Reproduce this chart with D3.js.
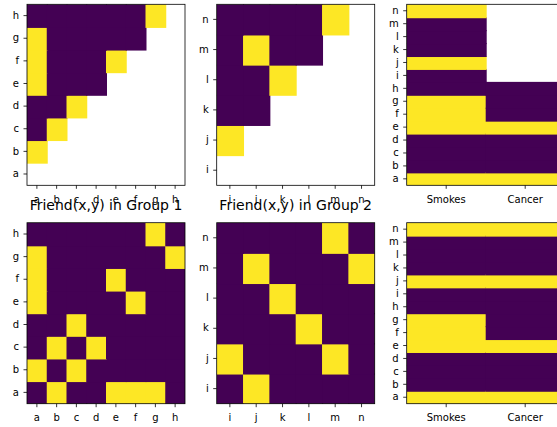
<!DOCTYPE html>
<html>
<head>
<meta charset="utf-8">
<script src="https://cdn.jsdelivr.net/npm/d3@7"></script>
<style>
    body { margin: 0; background: white; }
    svg { display: block; font-family: "DejaVu Sans", sans-serif; }
</style>
</head>
<body>
<svg></svg>
<script>
"use strict"

// group members
const group1 = ['a', 'b', 'c', 'd', 'e', 'f', 'g', 'h']
const group2 = ['i', 'j', 'k', 'l', 'm', 'n']
const people = group1.concat(group2)
const attrs = ['Smokes', 'Cancer']

// observed friendships, rows = y (a..h), cols = x (a..h), null = unknown
const friend1Obs = [
    [null, null, null, null, null, null, null, null],
    [1, null, null, null, null, null, null, null],
    [0, 1, null, null, null, null, null, null],
    [0, 0, 1, null, null, null, null, null],
    [1, 0, 0, 0, null, null, null, null],
    [1, 0, 0, 0, 1, null, null, null],
    [1, 0, 0, 0, 0, 0, null, null],
    [0, 0, 0, 0, 0, 0, 1, null],
]
const friend1 = [
    [0, 1, 0, 0, 1, 1, 1, 0],
    [1, 0, 1, 0, 0, 0, 0, 0],
    [0, 1, 0, 1, 0, 0, 0, 0],
    [0, 0, 1, 0, 0, 0, 0, 0],
    [1, 0, 0, 0, 0, 1, 0, 0],
    [1, 0, 0, 0, 1, 0, 0, 0],
    [1, 0, 0, 0, 0, 0, 0, 1],
    [0, 0, 0, 0, 0, 0, 1, 0],
]
const friend2Obs = [
    [null, null, null, null, null, null],
    [1, null, null, null, null, null],
    [0, 0, null, null, null, null],
    [0, 0, 1, null, null, null],
    [0, 1, 0, 0, null, null],
    [0, 0, 0, 0, 1, null],
]
const friend2 = [
    [0, 1, 0, 0, 0, 0],
    [1, 0, 0, 0, 1, 0],
    [0, 0, 0, 1, 0, 0],
    [0, 0, 1, 0, 0, 0],
    [0, 1, 0, 0, 0, 1],
    [0, 0, 0, 0, 1, 0],
]
// a..n
const smokesObs = [1, 0, 0, 0, 1, 1, 1, 0, 0, 1, 0, 0, 0, 1]
const cancerObs = [1, 0, 0, 0, 1, 0, 0, 0, null, null, null, null, null, null]
const smokes = [1, 0, 0, 0, 1, 1, 1, 0, 0, 1, 0, 0, 0, 1]
const cancer = [1, 0, 0, 0, 1, 0, 0, 0, 0, 1, 0, 0, 0, 1]

const titles = ['Friend(x,y) in Group 1', 'Friend(x,y) in Group 2', null]

const W = 557, H = 427
const svg = d3.select('svg').attr('width', W).attr('height', H)
svg.append('rect').attr('width', W).attr('height', H).attr('fill', 'white')

const color = d3.scaleSequential(d3.interpolateViridis).domain([0, 1])

const colX = [27, 216.7, 406.7]
const rowY = [4.3, 222.7]
const pw = 158, ph = 181

// matrix -> list of cells {x, y, v}
let friendCells = (m, names) => m.flatMap((row, i) => row.map((v, j) => ({ x: names[j], y: names[i], v })))
let attrCells = (cols) => cols.flatMap((col, j) => col.map((v, i) => ({ x: attrs[j], y: people[i], v })))

const panels = [
    [friendCells(friend1Obs, group1), group1, group1],
    [friendCells(friend2Obs, group2), group2, group2],
    [attrCells([smokesObs, cancerObs]), attrs, people],
    [friendCells(friend1, group1), group1, group1],
    [friendCells(friend2, group2), group2, group2],
    [attrCells([smokes, cancer]), attrs, people],
]

panels.forEach(([cells, xs, ys], k) => {
    let r = Math.floor(k / 3), c = k % 3
    let g = svg.append('g').attr('transform', `translate(${colX[c]},${rowY[r]})`)

    let x = d3.scaleBand().domain(xs).range([0, pw])
    let y = d3.scaleBand().domain(ys).range([ph, 0])

    // clip so the overlapping cells stay inside the frame
    let clipId = `clip${k}`
    g.append('clipPath').attr('id', clipId)
        .append('rect').attr('width', pw).attr('height', ph)

    g.append('g').attr('clip-path', `url(#${clipId})`)
        .selectAll('rect.cell')
        .data(cells.filter(d => d.v !== null))
        .join('rect')
        .attr('class', 'cell')
        .attr('x', d => x(d.x))
        .attr('y', d => y(d.y))
        .attr('width', x.bandwidth() + 1)
        .attr('height', y.bandwidth() + 1)
        .attr('fill', d => color(d.v))

    let xa = g.append('g').attr('transform', `translate(0,${ph})`)
        .call(d3.axisBottom(x).tickSize(3.5).tickPadding(7))
    let ya = g.append('g')
        .call(d3.axisLeft(y).tickSize(3.5).tickPadding(4.5))
    ;[xa, ya].forEach(a => {
        a.select('.domain').remove()
        a.selectAll('line').attr('stroke', 'black').attr('stroke-width', 0.8)
        a.selectAll('text').attr('font-size', 10).attr('fill', 'black')
            .attr('font-family', '"DejaVu Sans", sans-serif')
    })

    g.append('rect')
        .attr('width', pw).attr('height', ph)
        .attr('fill', 'none').attr('stroke', 'black').attr('stroke-width', 0.8)

    // titles sit over the tick labels of the row above, as in the original
    if (r === 1 && titles[c]) {
        g.append('text')
            .attr('x', pw / 2).attr('y', -13)
            .attr('text-anchor', 'middle')
            .attr('font-size', 14)
            .text(titles[c])
    }
})
</script>
</body>
</html>
